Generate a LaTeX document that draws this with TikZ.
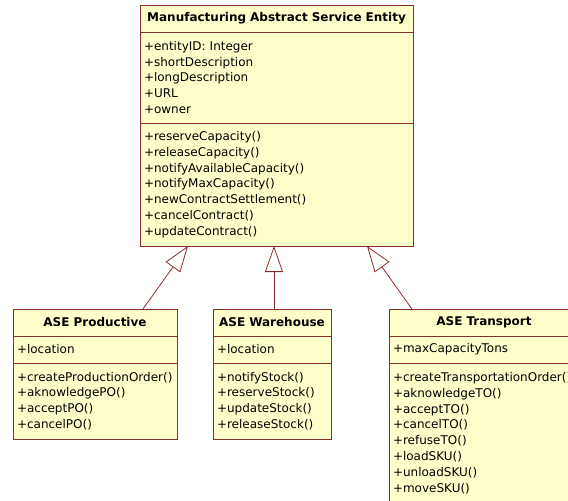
\documentclass[tikz,border=0pt]{standalone}
\usepackage{fontspec}
\setmainfont{DejaVu Sans}
\usetikzlibrary{arrows.meta,calc}
\definecolor{umlfill}{RGB}{255,255,204}
\definecolor{umlline}{RGB}{140,45,45}
\tikzset{
  cell/.style={draw=umlline, fill=umlfill, line width=1pt, anchor=north west,
    inner ysep=0pt, inner xsep=4pt, outer sep=0pt,
    font=\fontsize{12}{15.8}\selectfont},
  titlecell/.style={cell, align=center, font=\fontsize{12}{15.8}\selectfont\bfseries},
  listcell/.style={cell, align=left},
  gen/.style={draw=umlline, line width=0.8pt,
    -{Triangle[length=26pt,width=18pt,fill=white,line width=0.8pt]}}
}
\begin{document}
\begin{tikzpicture}[x=1pt,y=-1pt]
\useasboundingbox (0,0) rectangle (568,501);
\clip (0,0) rectangle (568,501);
% top class
\node[titlecell, text width=265pt, minimum height=27pt] (topT) at (140,5) {Manufacturing Abstract Service Entity};
\node[listcell, text width=265pt, minimum height=91pt] (topA) at (140,32) {+entityID: Integer\\+shortDescription\\+longDescription\\+URL\\+owner};
\node[listcell, text width=265pt, minimum height=123pt] (topM) at (140,123) {+reserveCapacity()\\+releaseCapacity()\\+notifyAvailableCapacity()\\+notifyMaxCapacity()\\+newContractSettlement()\\+cancelContract()\\+updateContract()};
% productive
\node[titlecell, text width=156pt, minimum height=27pt] (prodT) at (13,309) {ASE Productive};
\node[listcell, text width=156pt, minimum height=27pt] (prodA) at (13,336) {+location};
\node[listcell, text width=156pt, minimum height=76pt] (prodM) at (13,363) {+createProductionOrder()\\+aknowledgePO()\\+acceptPO()\\+cancelPO()};
% warehouse
\node[titlecell, text width=110pt, minimum height=27pt] (whT) at (213,309) {ASE Warehouse};
\node[listcell, text width=110pt, minimum height=27pt] (whA) at (213,336) {+location};
\node[listcell, text width=110pt, minimum height=76pt] (whM) at (213,363) {+notifyStock()\\+reserveStock()\\+updateStock()\\+releaseStock()};
% transport
\node[titlecell, text width=182pt, minimum height=27pt] (trT) at (389,309) {ASE Transport};
\node[listcell, text width=182pt, minimum height=27pt] (trA) at (389,336) {+maxCapacityTons};
\node[listcell, text width=182pt, minimum height=140pt] (trM) at (389,363) {+createTransportationOrder()\\+aknowledgeTO()\\+acceptTO()\\+cancelTO()\\+refuseTO()\\+loadSKU()\\+unloadSKU()\\+moveSKU()};
% generalizations
\draw[gen] ($(prodT.north west)+(130,0)$) -- ($(topM.south west)+(48,0)$);
\draw[gen] ($(whT.north west)+(61,0)$) -- ($(topM.south west)+(134,0)$);
\draw[gen] ($(trT.north west)+(23,0)$) -- ($(topM.south west)+(227,0)$);
\end{tikzpicture}
\end{document}
